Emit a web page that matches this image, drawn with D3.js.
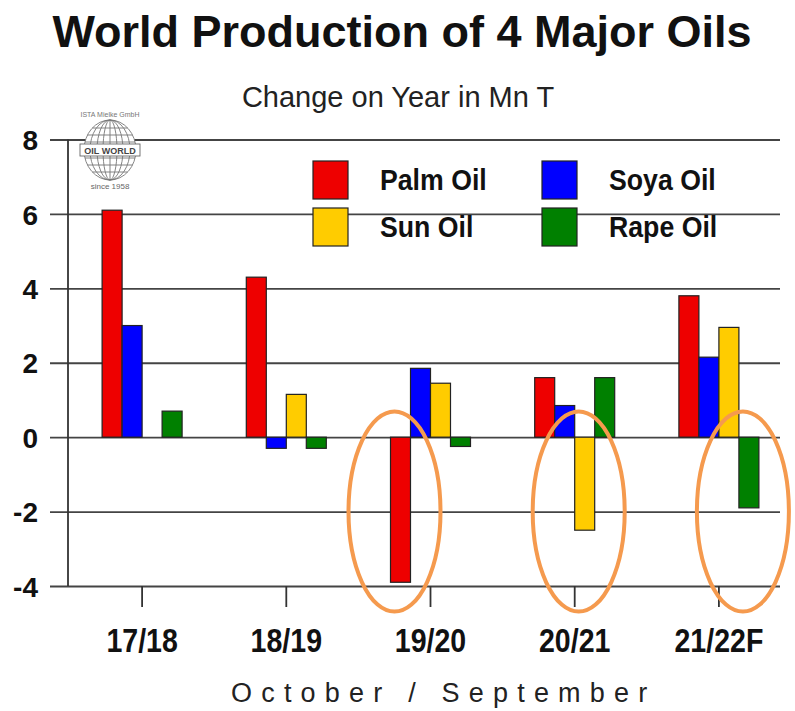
<!DOCTYPE html>
<html>
<head>
<meta charset="utf-8">
<script src="https://cdn.jsdelivr.net/npm/d3@7"></script>
<style>
  body { margin: 0; background: #fff; }
  svg { display: block; font-family: "Liberation Sans", Arial, sans-serif; }
</style>
</head>
<body>
<div class="chart"></div>
<script>
// data (change on year, Mn T)
const seasons = ['17/18', '18/19', '19/20', '20/21', '21/22F'];
const seriesNames = ['Palm Oil', 'Soya Oil', 'Sun Oil', 'Rape Oil'];
const seriesColors = ['#ee0000', '#0000ff', '#ffcc00', '#008000'];
const palmOil = [6.1, 4.3, -3.9, 1.6, 3.8];
const soyaOil = [3.0, -0.3, 1.85, 0.85, 2.15];
const sunOil = [0, 1.15, 1.45, -2.5, 2.95];
const rapeOil = [0.7, -0.3, -0.25, 1.6, -1.9];
const yTicks = [-4, -2, 0, 2, 4, 6, 8];
// circled bars in the picture
const highlights = [['19/20', 'Palm Oil'], ['20/21', 'Sun Oil'], ['21/22F', 'Rape Oil']];

const values = [palmOil, soyaOil, sunOil, rapeOil];
const bars = [];
seasons.forEach((s, i) => {
    seriesNames.forEach((n, j) => {
        bars.push({season: s, name: n, value: values[j][i], color: seriesColors[j]});
    });
});

const W = 795, H = 711;
const svg = d3.select('.chart').append('svg')
    .attr('width', W).attr('height', H);

// scales
const x = d3.scaleBand().domain(seasons).range([70, 791]);
const xs = d3.scaleBand().domain(seriesNames).range([-40, 40]);
const y = d3.scaleLinear().domain([-4, 8]).range([586, 139.5]);
const axisX = 68, gridRight = 780;
const cx = s => x(s) + x.bandwidth() / 2;

// title
svg.append('text')
    .attr('x', 402).attr('y', 47)
    .attr('text-anchor', 'middle')
    .style('font-size', '45px').style('font-weight', 'bold').style('fill', '#111')
    .text('World Production of 4 Major Oils');
svg.append('text')
    .attr('x', 398).attr('y', 107)
    .attr('text-anchor', 'middle')
    .style('font-size', '29px').style('fill', '#222')
    .text('Change on Year in Mn T');

// y gridlines + labels
const yAxis = d3.axisLeft(y).tickValues(yTicks)
    .tickSize(-(gridRight - 50)).tickFormat(d => String(d));
const gy = svg.append('g')
    .attr('transform', `translate(50,0)`)
    .call(yAxis);
gy.select('.domain').remove();
gy.selectAll('.tick line').attr('stroke', '#444').attr('stroke-width', 1.8);
gy.selectAll('.tick text')
    .attr('x', -12).attr('dy', '0.36em')
    .style('font-size', '28px').style('font-weight', 'bold')
    .style('font-family', '"Liberation Sans", Arial, sans-serif')
    .style('fill', '#111');

// y axis line
svg.append('line')
    .attr('x1', axisX).attr('x2', axisX)
    .attr('y1', y(8)).attr('y2', y(-4))
    .attr('stroke', '#333').attr('stroke-width', 1.8);

// x axis ticks + labels (narrowed bold face)
const xAxis = d3.axisBottom(x).tickSize(21).tickSizeOuter(0);
const gx = svg.append('g')
    .attr('transform', `translate(0,${y(-4)})`)
    .call(xAxis);
gx.select('.domain').remove();
gx.selectAll('.tick line').attr('stroke', '#333').attr('stroke-width', 1.8);
gx.selectAll('.tick text')
    .attr('y', 42).attr('dy', '0.71em')
    .attr('transform', 'scale(0.84,1)')
    .style('font-size', '34px').style('font-weight', 'bold')
    .style('font-family', '"Liberation Sans", Arial, sans-serif')
    .style('fill', '#111');

svg.append('text')
    .attr('x', 231).attr('y', 702)
    .style('font-size', '27px').style('letter-spacing', '9.2px').style('fill', '#222')
    .text('October / September');

// bars
svg.append('g').selectAll('rect')
    .data(bars.filter(d => d.value !== 0))
    .join('rect')
    .attr('x', d => cx(d.season) + xs(d.name))
    .attr('width', xs.bandwidth())
    .attr('y', d => y(Math.max(0, d.value)))
    .attr('height', d => Math.abs(y(d.value) - y(0)))
    .attr('fill', d => d.color)
    .attr('stroke', '#222').attr('stroke-width', 1.2);

// legend
const legend = svg.append('g');
const legendPos = [[313, 161], [542, 161], [313, 208], [542, 208]];
seriesNames.forEach((n, j) => {
    const [lx, ly] = legendPos[j];
    legend.append('rect')
        .attr('x', lx).attr('y', ly).attr('width', 35).attr('height', 38)
        .attr('fill', seriesColors[j]).attr('stroke', '#222').attr('stroke-width', 1.2);
    legend.append('text')
        .attr('x', lx + 67).attr('y', ly + 29)
        .attr('transform', `translate(${(lx + 67) * 0.08},0) scale(0.92,1)`)
        .style('font-size', '29px').style('font-weight', 'bold').style('fill', '#111')
        .text(n);
});

// orange annotation ellipses
svg.append('g').selectAll('ellipse')
    .data(highlights)
    .join('ellipse')
    .attr('cx', d => cx(d[0]) + xs(d[1]) + xs.bandwidth() / 2 - 6)
    .attr('cy', y(-2))
    .attr('rx', 46).attr('ry', 100)
    .attr('fill', 'none')
    .attr('stroke', '#f59a4e').attr('stroke-width', 4);

// OIL WORLD logo (globe)
const logo = svg.append('g').attr('transform', 'translate(110,150)')
    .attr('fill', 'none').attr('stroke', '#777').attr('stroke-width', 0.9);
logo.append('ellipse').attr('rx', 26).attr('ry', 30).attr('fill', '#fff');
[7, 13, 20].forEach(r => logo.append('ellipse').attr('rx', r).attr('ry', 30));
logo.append('line').attr('y1', -30).attr('y2', 30);
[-22, -15, -8, 8, 15, 22].forEach(v => {
    const hw = 26 * Math.sqrt(1 - (v / 30) ** 2);
    logo.append('line').attr('x1', -hw).attr('x2', hw).attr('y1', v).attr('y2', v);
});
logo.append('rect').attr('x', -30).attr('y', -6).attr('width', 60).attr('height', 12)
    .attr('fill', '#fff').attr('stroke', '#666');
logo.append('text').attr('y', 3.5).attr('text-anchor', 'middle')
    .attr('stroke', 'none').attr('fill', '#444')
    .style('font-size', '9px').style('font-weight', 'bold').text('OIL WORLD');
logo.append('text').attr('y', 39).attr('text-anchor', 'middle')
    .attr('stroke', 'none').attr('fill', '#666')
    .style('font-size', '8px').text('since 1958');
logo.append('text').attr('y', -33).attr('text-anchor', 'middle')
    .attr('stroke', 'none').attr('fill', '#777')
    .style('font-size', '7px').text('ISTA Mielke GmbH');
</script>
</body>
</html>
